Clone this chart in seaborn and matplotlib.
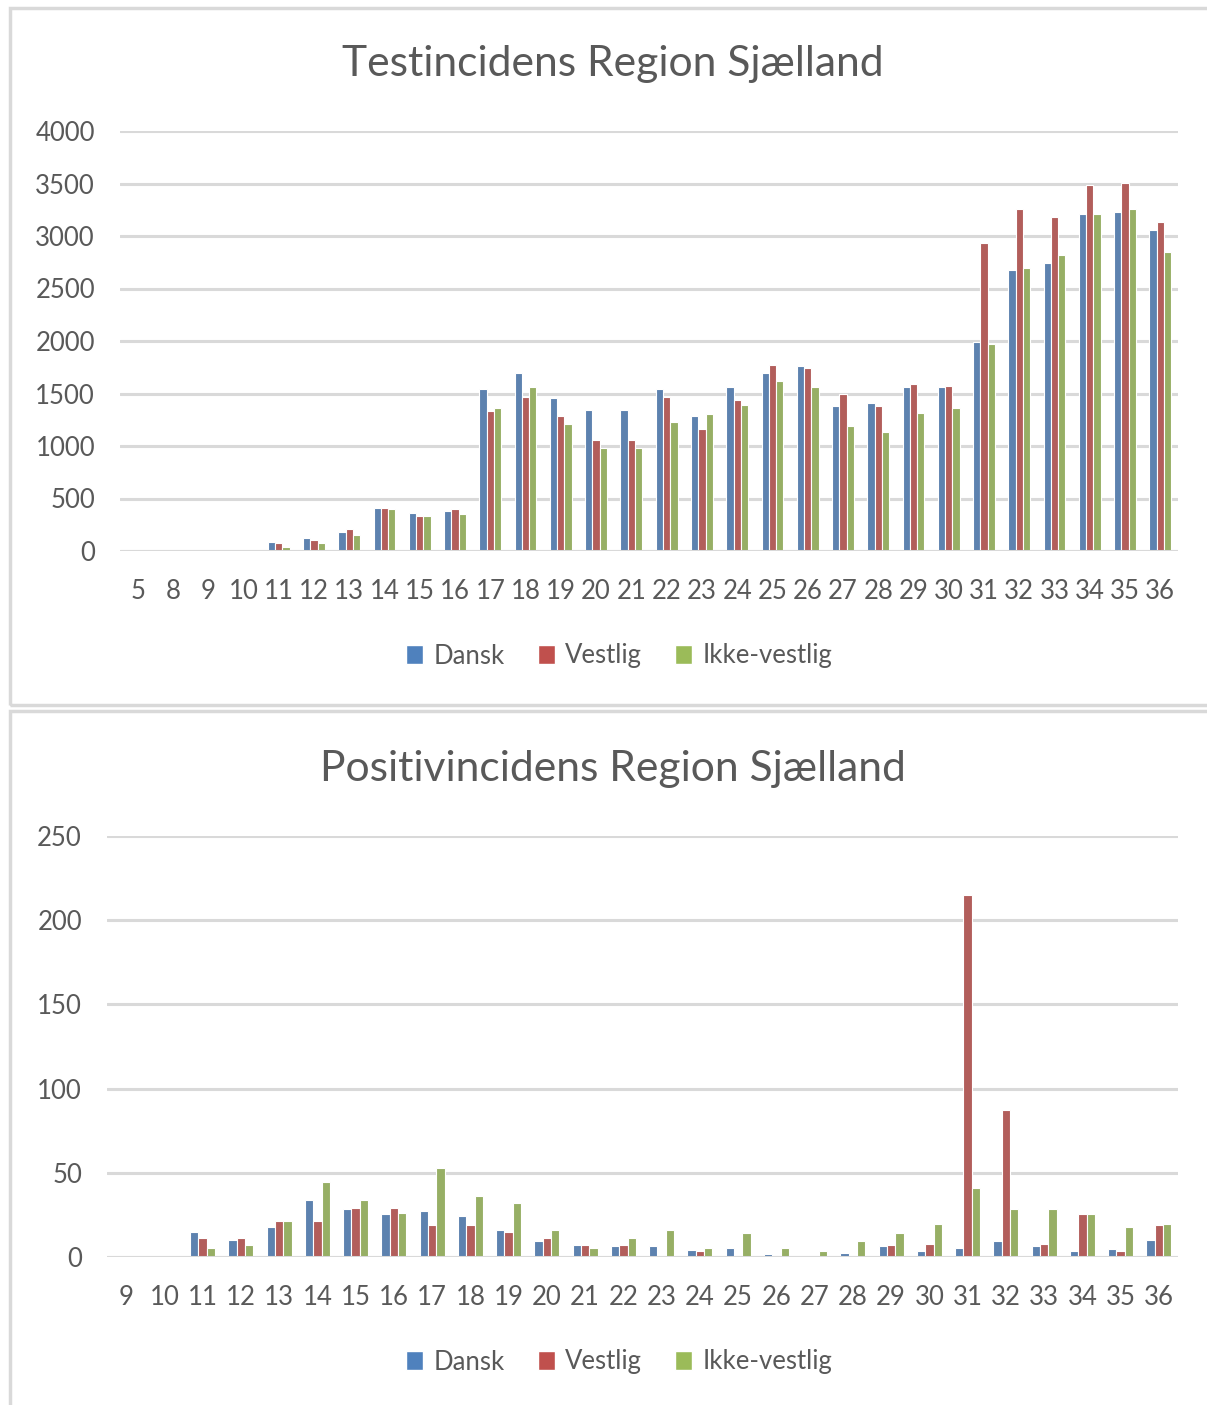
import pandas as pd
import matplotlib.pyplot as plt
import seaborn as sns
from matplotlib.patches import Rectangle, Patch

# Testincidens data (per uge)
test_weeks = ['5', '8', '9'] + [str(w) for w in range(10, 37)]
test_dansk = [0, 0, 0, 0, 89, 121, 178, 410, 366, 382, 1543, 1696, 1454, 1346, 1346,
              1543, 1286, 1559, 1696, 1759, 1378, 1406, 1559, 1559, 1989, 2676, 2740,
              3210, 3230, 3061]
test_vestlig = [0, 0, 0, 0, 73, 105, 213, 410, 334, 398, 1330, 1467, 1286, 1057, 1057,
                1467, 1162, 1438, 1772, 1744, 1499, 1378, 1591, 1575, 2937, 3258, 3182,
                3487, 3506, 3134]
test_ikke = [0, 0, 0, 0, 41, 73, 150, 398, 334, 350, 1359, 1559, 1209, 980, 980,
             1225, 1302, 1391, 1620, 1559, 1193, 1133, 1314, 1359, 1973, 2692, 2816,
             3210, 3258, 2848]

# Positivincidens data
pos_weeks = [str(w) for w in range(9, 37)]
pos_dansk = [0, 0, 14.8, 10.1, 17.8, 34, 28.3, 25.5, 27.3, 24.5, 15.8, 9.3, 7.3, 6.3,
             6.3, 4.3, 5.3, 1.5, 0, 2.5, 6.3, 3.5, 5.5, 9.5, 6.5, 3.7, 4.7, 10.3]
pos_vestlig = [0, 0, 11.1, 11.1, 21.5, 21.5, 29.2, 29.2, 18.8, 18.8, 14.8, 11.1, 7.3,
               7.3, 0, 3.3, 0, 0, 0, 0, 7.3, 7.5, 215, 87.4, 7.5, 25.5, 3.7, 18.8]
pos_ikke = [0, 0, 5.3, 7.3, 21.5, 44.5, 34, 26.3, 53, 36, 32, 15.8, 5.3, 11.1, 15.8,
            5.3, 14, 5.3, 3.3, 9.3, 14, 19.7, 40.7, 28.5, 28.5, 25.5, 17.8, 19.8]

groups = ['Dansk', 'Vestlig', 'Ikke-vestlig']
colors = ['#4F81BD', '#C0504D', '#9BBB59']
text_col = '#595959'
grid_col = '#D9D9D9'


def long_df(weeks, *series):
    rows = []
    for g, vals in zip(groups, series):
        for w, v in zip(weeks, vals):
            rows.append({'uge': w, 'gruppe': g, 'værdi': v})
    return pd.DataFrame(rows)


sns.set_theme(style='white')
plt.rcParams['font.family'] = ['Lato', 'DejaVu Sans']

fig = plt.figure(figsize=(12.07, 14.05), dpi=100)

# Excel-lignende rammer om de to diagrammer
fig.patches.append(Rectangle((10 / 1207, 1 - 705 / 1405), 1.0, 697 / 1405,
                             transform=fig.transFigure, fill=False,
                             edgecolor=grid_col, linewidth=2.5))
fig.patches.append(Rectangle((10 / 1207, -0.01), 1.0, 1 - 711 / 1405 + 0.01,
                             transform=fig.transFigure, fill=False,
                             edgecolor=grid_col, linewidth=2.5))


def draw(ax, df, order, ymax, step, title, title_y, legend_y, width):
    sns.barplot(data=df, x='uge', y='værdi', hue='gruppe', order=order,
                hue_order=groups, palette=colors, width=width,
                edgecolor='white', linewidth=0.8, ax=ax, legend=False)
    ax.set_ylim(0, ymax)
    ax.set_xlim(-0.5, len(order) - 0.5)
    ax.set_yticks(range(0, ymax + 1, step))
    ax.set_axisbelow(True)
    ax.yaxis.grid(True, color=grid_col, linewidth=2.2)
    ax.axhline(0, color=grid_col, linewidth=2.2, zorder=5)
    for s in ax.spines.values():
        s.set_visible(False)
    ax.set_xlabel('')
    ax.set_ylabel('')
    ax.tick_params(axis='both', length=0, labelsize=18.5, labelcolor=text_col)
    ax.tick_params(axis='x', pad=20)
    ax.tick_params(axis='y', pad=18)
    fig.text(0.508, title_y, title, ha='center', va='center', fontsize=30.7,
             color=text_col)
    handles = [Patch(facecolor=c, edgecolor='white') for c in colors]
    ax.legend(handles, groups, loc='center', bbox_to_anchor=(0.513, legend_y),
              bbox_transform=fig.transFigure, ncol=3, frameon=False,
              fontsize=18.5, labelcolor=text_col, handlelength=0.65,
              handleheight=0.8, handletextpad=0.4, columnspacing=1.3)


ax1 = fig.add_axes([120 / 1207, 1 - 551 / 1405, 1058 / 1207, 420 / 1405])
draw(ax1, long_df(test_weeks, test_dansk, test_vestlig, test_ikke), test_weeks,
     4000, 500, 'Testincidens Region Sjælland', 1 - 64 / 1405, 1 - 656 / 1405, 0.62)

ax2 = fig.add_axes([107 / 1207, 1 - 1257 / 1405, 1071 / 1207, 421 / 1405])
draw(ax2, long_df(pos_weeks, pos_dansk, pos_vestlig, pos_ikke), pos_weeks,
     250, 50, 'Positivincidens Region Sjælland', 1 - 769 / 1405, 1 - 1362 / 1405, 0.66)

fig.savefig('out.png', dpi=100)
